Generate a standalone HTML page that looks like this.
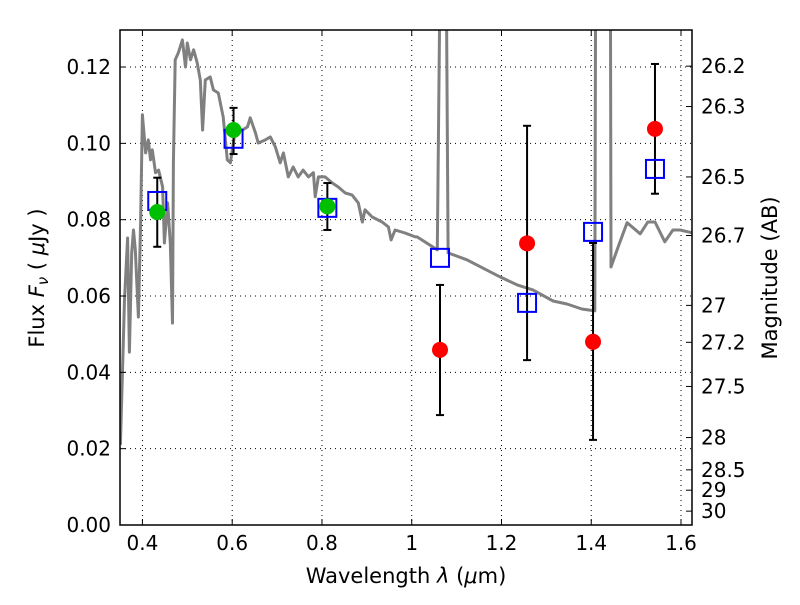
<!DOCTYPE html>
<html><head><meta charset="utf-8"><style>
body{margin:0;background:#fff}
svg text{font-family:"DejaVu Sans","Liberation Sans",sans-serif;fill:#000}
</style></head><body>
<svg id="chart" width="800" height="600" xmlns="http://www.w3.org/2000/svg">
<rect width="800" height="600" fill="#fff"/>
<g id="grid"></g>
<g id="plot"></g>
<g id="axes"></g>
<text x="406" y="583" font-size="21" text-anchor="middle">Wavelength  <tspan font-style="italic">λ</tspan> (<tspan font-style="italic">μ</tspan>m)</text>
<text transform="translate(44,278) rotate(-90)" font-size="21" text-anchor="middle">Flux  <tspan font-style="italic">F<tspan font-size="15" dy="4">ν</tspan></tspan><tspan dy="-4">  ( </tspan><tspan font-style="italic">μ</tspan>Jy )</text>
<text transform="translate(777,278) rotate(-90)" font-size="21" text-anchor="middle">Magnitude (AB)</text>
</svg>
<script>
const specLam=[0.351,0.360,0.367,0.371,0.376,0.380,0.384,0.391,0.396,0.400,0.407,0.413,0.418,0.422,0.429,0.436,0.445,0.449,0.456,0.462,0.467,0.469,0.473,0.480,0.489,0.496,0.500,0.507,0.514,0.522,0.529,0.534,0.540,0.551,0.558,0.569,0.580,0.589,0.596,0.607,0.623,0.634,0.640,0.652,0.658,0.674,0.685,0.696,0.707,0.714,0.725,0.736,0.747,0.758,0.770,0.781,0.785,0.792,0.807,0.823,0.836,0.852,0.867,0.881,0.890,0.896,0.912,0.934,0.948,0.954,0.963,0.985,1.008,1.012,1.057,1.068,1.074,1.081,1.123,1.197,1.235,1.270,1.315,1.346,1.379,1.408,1.413,1.440,1.444,1.460,1.480,1.509,1.526,1.542,1.564,1.582,1.598,1.627];
const specFlux=[0.0210,0.0590,0.0752,0.0453,0.0713,0.0773,0.0721,0.0545,0.0792,0.1075,0.0975,0.1009,0.0957,0.0983,0.0923,0.0930,0.0886,0.0739,0.0844,0.0739,0.0529,0.0949,0.1219,0.1237,0.1271,0.1200,0.1263,0.1219,0.1245,0.1211,0.1166,0.1035,0.1166,0.1174,0.1140,0.1132,0.1069,0.0957,0.0949,0.1035,0.1035,0.1043,0.1067,0.1027,0.1001,0.1009,0.1017,0.0991,0.0949,0.0975,0.0912,0.0938,0.0912,0.0930,0.0912,0.0923,0.0860,0.0912,0.0912,0.0896,0.0886,0.0870,0.0865,0.0844,0.0794,0.0826,0.0807,0.0794,0.0781,0.0747,0.0773,0.0765,0.0755,0.0755,0.0721,0.2,0.2,0.0713,0.0695,0.0650,0.0629,0.0616,0.0587,0.0579,0.0566,0.0561,0.3,0.3,0.0676,0.0729,0.0792,0.0763,0.0794,0.0794,0.0742,0.0773,0.0773,0.0765];
const modelLam=[0.433,0.603,0.812,1.063,1.257,1.404,1.542];
const modelFlux=[0.0849,0.1012,0.0831,0.0700,0.0582,0.0768,0.0933];
const obsLam=[0.433,0.603,0.812,1.063,1.257,1.404,1.542];
const obsFlux=[0.0820,0.1035,0.0835,0.0459,0.0738,0.0480,0.1038];
const obsLo=[0.0729,0.0972,0.0773,0.0288,0.0432,0.0223,0.0868];
const obsHi=[0.0910,0.1093,0.0896,0.0629,0.1046,0.0739,0.1208];
const obsDetected=[true,true,true,false,false,false,false];
const xTicks=[0.4,0.6,0.8,1.0,1.2,1.4,1.6];
const xTickLabels=["0.4","0.6","0.8","1","1.2","1.4","1.6"];
const yTicks=[0,0.02,0.04,0.06,0.08,0.10,0.12];
const yTickLabels=["0.00","0.02","0.04","0.06","0.08","0.10","0.12"];
const magTicks=[26.2,26.3,26.5,26.7,27,27.2,27.5,28,28.5,29,30];
const magLabels=["26.2","26.3","26.5","26.7","27","27.2","27.5","28","28.5","29","30"];

const L=120,R=692,T=30,B=525,xmin=0.35,xmax=1.6245,ymax=0.1297;
const X=v=>L+(v-xmin)/(xmax-xmin)*(R-L);
const Y=v=>B-v/ymax*(B-T);
const NS="http://www.w3.org/2000/svg";
function mk(tag,parent,attrs){const e=document.createElementNS(NS,tag);for(const k in attrs)e.setAttribute(k,attrs[k]);parent.appendChild(e);return e;}
const grid=document.getElementById('grid'),plot=document.getElementById('plot'),axes=document.getElementById('axes');

xTicks.forEach((t,i)=>{
  const g=mk('line',grid,{x1:X(t),x2:X(t),y1:T,y2:B,stroke:'#000','stroke-width':1,'stroke-dasharray':'1,4'});
  
  
  mk('line',axes,{x1:X(t),x2:X(t),y1:B,y2:B-6,stroke:'#000'});
  mk('line',axes,{x1:X(t),x2:X(t),y1:T,y2:T+6,stroke:'#000'});
  const tx=mk('text',axes,{x:X(t),y:B+25,'font-size':20,'text-anchor':'middle'});
  tx.textContent=xTickLabels[i];
  
  
});
yTicks.forEach((t,i)=>{
  const g=mk('line',grid,{x1:L,x2:R,y1:Y(t),y2:Y(t),stroke:'#000','stroke-width':1,'stroke-dasharray':'1,4'});
  
  
  mk('line',axes,{x1:L,x2:L+6,y1:Y(t),y2:Y(t),stroke:'#000'});
  const tx=mk('text',axes,{x:L-9,y:Y(t)+7,'font-size':20,'text-anchor':'end'});
  tx.textContent=yTickLabels[i];
  
  
});
magTicks.forEach((m,i)=>{
  const f=Math.pow(10,(23.9-m)/2.5);
  const y=Y(f);
  mk('line',axes,{x1:R,x2:R-6,y1:y,y2:y,stroke:'#000'});
  const tx=mk('text',axes,{x:R+9,y:y+7,'font-size':20,'text-anchor':'start'});
  tx.textContent=magLabels[i];
  
  
});

const defs=mk('defs',plot,{});const cp=mk('clipPath',defs,{id:'cp'});mk('rect',cp,{x:L,y:T,width:R-L,height:B-T});
const cg=mk('g',plot,{'clip-path':'url(#cp)'});
let d='';specLam.forEach((l,i)=>{d+=(i?'L':'M')+X(l).toFixed(1)+','+Y(specFlux[i]).toFixed(1);});
const sp=mk('path',cg,{d:d,fill:'none',stroke:'#808080','stroke-width':3,'stroke-linejoin':'round'});



obsLam.forEach((l,i)=>{
  const x=X(l);
  const eb=mk('g',cg,{stroke:'#000','stroke-width':2});
  
  
  mk('line',eb,{x1:x,x2:x,y1:Y(obsLo[i]),y2:Y(obsHi[i])});
  mk('line',eb,{x1:x-4,x2:x+4,y1:Y(obsLo[i]),y2:Y(obsLo[i])});
  mk('line',eb,{x1:x-4,x2:x+4,y1:Y(obsHi[i]),y2:Y(obsHi[i])});
});
modelLam.forEach((l,i)=>{
  const s=mk('rect',cg,{x:X(l)-9,y:Y(modelFlux[i])-9,width:18,height:18,fill:'none',stroke:'#0000ff','stroke-width':2});
  
  
});
obsLam.forEach((l,i)=>{
  const c=mk('circle',cg,{cx:X(l),cy:Y(obsFlux[i]),r:8,fill:obsDetected[i]?'#00bf00':'#ff0000'});
  
  
});
const fr=mk('rect',axes,{x:L,y:T,width:R-L,height:B-T,fill:'none',stroke:'#000','stroke-width':1.5});


</script>
</body></html>
